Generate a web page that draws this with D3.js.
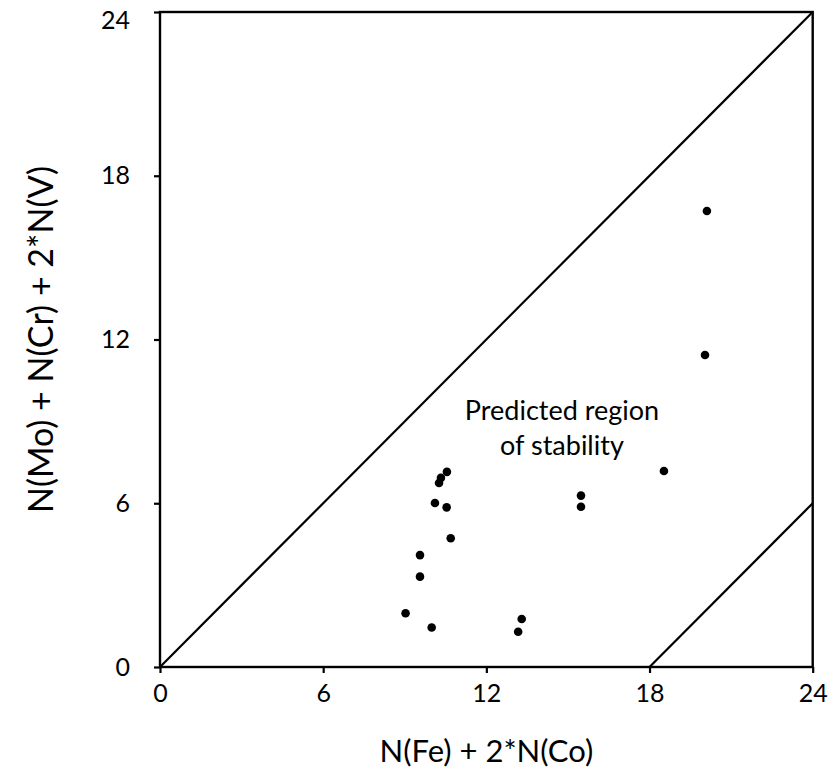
<!DOCTYPE html>
<html>
<head>
<meta charset="utf-8">
<script src="https://cdn.jsdelivr.net/npm/d3@7"></script>
<style>
  html, body { margin: 0; padding: 0; background: #fff; }
  svg { display: block; font-family: Lato, "Open Sans", sans-serif; }
</style>
</head>
<body>
<svg id="chart" width="832" height="772"></svg>
<script>
// Measured compositions: N(Fe) + 2*N(Co) vs N(Mo) + N(Cr) + 2*N(V)
const feCo = [10.55, 10.33, 10.26, 10.11, 10.54, 10.69, 9.56, 9.56, 9.03, 9.99,
              13.30, 13.17, 15.48, 15.48, 18.53, 20.04, 20.11];
const moCrV = [7.15, 6.93, 6.74, 6.01, 5.85, 4.72, 4.10, 3.31, 1.97, 1.45,
               1.76, 1.29, 6.28, 5.87, 7.18, 11.43, 16.71];

// Boundaries of the predicted stability region
const upperBound = [[0, 0], [24, 24]];
const lowerBound = [[18, 0], [24, 6]];

const xTicks = [0, 6, 12, 18, 24];
const yTicks = [0, 6, 12, 18, 24];
const regionLabel = ["Predicted region", "of stability"];

const svg = d3.select("#chart");
const plotLeft = 160, plotRight = 812.7, plotTop = 12, plotBottom = 667;

const x = d3.scaleLinear().domain([0, 24]).range([plotLeft, plotRight]);
const y = d3.scaleLinear().domain([0, 24]).range([plotBottom, plotTop]);

// Axes
const xAxis = svg.append("g")
  .attr("transform", `translate(0,${plotBottom})`)
  .call(d3.axisBottom(x).tickValues(xTicks).tickSize(6).tickPadding(14));
const yAxis = svg.append("g")
  .attr("transform", `translate(${plotLeft},0)`)
  .call(d3.axisLeft(y).tickValues(yTicks).tickSize(6).tickPadding(24));

[xAxis, yAxis].forEach(g => {
  g.select(".domain").remove();
  g.selectAll(".tick line").attr("stroke", "#000").attr("stroke-width", 2.2);
  g.selectAll(".tick text")
    .attr("fill", "#000")
    .style("font-size", "25px")
    .style("font-family", "Lato, 'Open Sans', sans-serif");
});
xAxis.selectAll(".tick text").attr("dy", "0.6em");
// keep the top y label inside the page
yAxis.selectAll(".tick text").filter(d => d === 24).attr("dy", "0.65em");

// Plot frame
svg.append("rect")
  .attr("x", plotLeft).attr("y", plotTop)
  .attr("width", plotRight - plotLeft).attr("height", plotBottom - plotTop)
  .attr("fill", "none").attr("stroke", "#000").attr("stroke-width", 2.4);

// Boundary lines
const line = d3.line().x(d => x(d[0])).y(d => y(d[1]));
[upperBound, lowerBound].forEach(seg => {
  svg.append("path")
    .attr("d", line(seg))
    .attr("fill", "none")
    .attr("stroke", "#000")
    .attr("stroke-width", 2.2);
});

// Data points
svg.append("g")
  .selectAll("circle")
  .data(feCo.map((v, i) => [v, moCrV[i]]))
  .join("circle")
  .attr("cx", d => x(d[0]))
  .attr("cy", d => y(d[1]))
  .attr("r", 4.3)
  .attr("fill", "#000");

// Region annotation
svg.append("text")
  .attr("text-anchor", "middle")
  .attr("fill", "#000")
  .style("font-size", "27px")
  .selectAll("tspan")
  .data(regionLabel)
  .join("tspan")
  .attr("x", x(14.78))
  .attr("y", (d, i) => y(9.05) + i * 35)
  .text(d => d);

// Axis titles
svg.append("text")
  .attr("x", (plotLeft + plotRight) / 2)
  .attr("y", 762)
  .attr("text-anchor", "middle")
  .attr("fill", "#000")
  .style("font-size", "31px")
  .text("N(Fe) + 2*N(Co)");

svg.append("text")
  .attr("transform", `translate(53,${(plotTop + plotBottom) / 2}) rotate(-90)`)
  .attr("text-anchor", "middle")
  .attr("fill", "#000")
  .style("font-size", "34px")
  .text("N(Mo) + N(Cr) + 2*N(V)");
</script>
</body>
</html>
